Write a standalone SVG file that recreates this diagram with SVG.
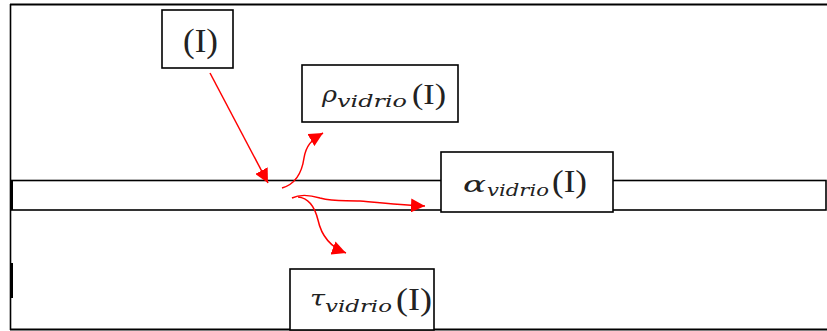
<svg xmlns="http://www.w3.org/2000/svg" width="827" height="331" viewBox="0 0 827 331">
  <style>
    .frame { fill: none; stroke: #000; }
    .box { fill: #fff; stroke: #000; stroke-width: 1.6; }
    .sym { font-family: "DejaVu Serif", "Liberation Serif", serif; font-style: italic; fill: #222; }
    .sub { font-family: "DejaVu Serif", "Liberation Serif", serif; font-style: italic; fill: #222; }
    .par { font-family: "Liberation Serif", serif; fill: #222; }
    .flow { fill: none; stroke: #ff0000; stroke-width: 1.5; }
  </style>
  <defs>
    <marker id="head" markerUnits="userSpaceOnUse" markerWidth="16" markerHeight="14" refX="14" refY="7" orient="auto">
      <path d="M0,0 L14,7 L0,14 Z" fill="#ff0000"/>
    </marker>
  </defs>

  <rect width="827" height="331" fill="#fff"/>

  <!-- outer frame -->
  <g id="frame">
    <line class="frame" x1="10" y1="4.5" x2="827" y2="4.5" stroke-width="2.2"/>
    <line class="frame" x1="10.5" y1="4" x2="10.5" y2="330" stroke-width="1.6"/>
    <line class="frame" x1="10" y1="329.5" x2="827" y2="329.5" stroke-width="2"/>
    <line class="frame" x1="11.5" y1="263" x2="11.5" y2="298" stroke-width="3"/>
  </g>

  <!-- glass pane -->
  <g id="vidrio">
    <rect x="11" y="180.5" width="815" height="29.5" fill="#fff" stroke="#000" stroke-width="1.6"/>
    <line class="frame" x1="11.5" y1="181" x2="11.5" y2="210" stroke-width="3"/>
  </g>

  <!-- incident radiation -->
  <g id="incidente">
    <rect class="box" x="162" y="10" width="71" height="58"/>
    <text class="par" x="183" y="52" font-size="33" textLength="35" lengthAdjust="spacingAndGlyphs">(I)</text>
  </g>

  <!-- reflected part -->
  <g id="reflejada">
    <rect class="box" x="302" y="65" width="156" height="57"/>
    <text class="sym" x="322" y="102" font-size="22" textLength="15" lengthAdjust="spacingAndGlyphs">ρ</text>
    <text class="sub" x="337" y="107" font-size="17" textLength="70" lengthAdjust="spacingAndGlyphs">vidrio</text>
    <text class="par" x="412" y="104" font-size="30" textLength="34" lengthAdjust="spacingAndGlyphs">(I)</text>
  </g>

  <!-- absorbed part -->
  <g id="absorbida">
    <rect class="box" x="441" y="152" width="172" height="60"/>
    <text class="sym" x="463" y="192" font-size="22" textLength="23" lengthAdjust="spacingAndGlyphs">α</text>
    <text class="sub" x="487" y="196" font-size="17" textLength="62" lengthAdjust="spacingAndGlyphs">vidrio</text>
    <text class="par" x="552" y="192" font-size="31" textLength="35" lengthAdjust="spacingAndGlyphs">(I)</text>
  </g>

  <!-- transmitted part -->
  <g id="transmitida">
    <rect class="box" x="290" y="269" width="144" height="61"/>
    <text class="sym" x="310" y="306" font-size="22" textLength="15" lengthAdjust="spacingAndGlyphs">τ</text>
    <text class="sub" x="325" y="312" font-size="17" textLength="67" lengthAdjust="spacingAndGlyphs">vidrio</text>
    <text class="par" x="396" y="310" font-size="32" textLength="36" lengthAdjust="spacingAndGlyphs">(I)</text>
  </g>

  <!-- radiation paths -->
  <g id="conectores">
    <path class="flow" d="M210,73 L268,183" marker-end="url(#head)"/>
    <path class="flow" d="M282,188 C296,184 302,172 304,158 C306,146 311,140 323,133" marker-end="url(#head)"/>
    <path class="flow" d="M292,198 C300,194 310,195 320,198 C335,202 345,200 360,201 C382,203 402,205 425,206" marker-end="url(#head)"/>
    <path class="flow" d="M298,197 C310,198 315,208 318,220 C321,234 328,246 346,253" marker-end="url(#head)"/>
  </g>
</svg>
